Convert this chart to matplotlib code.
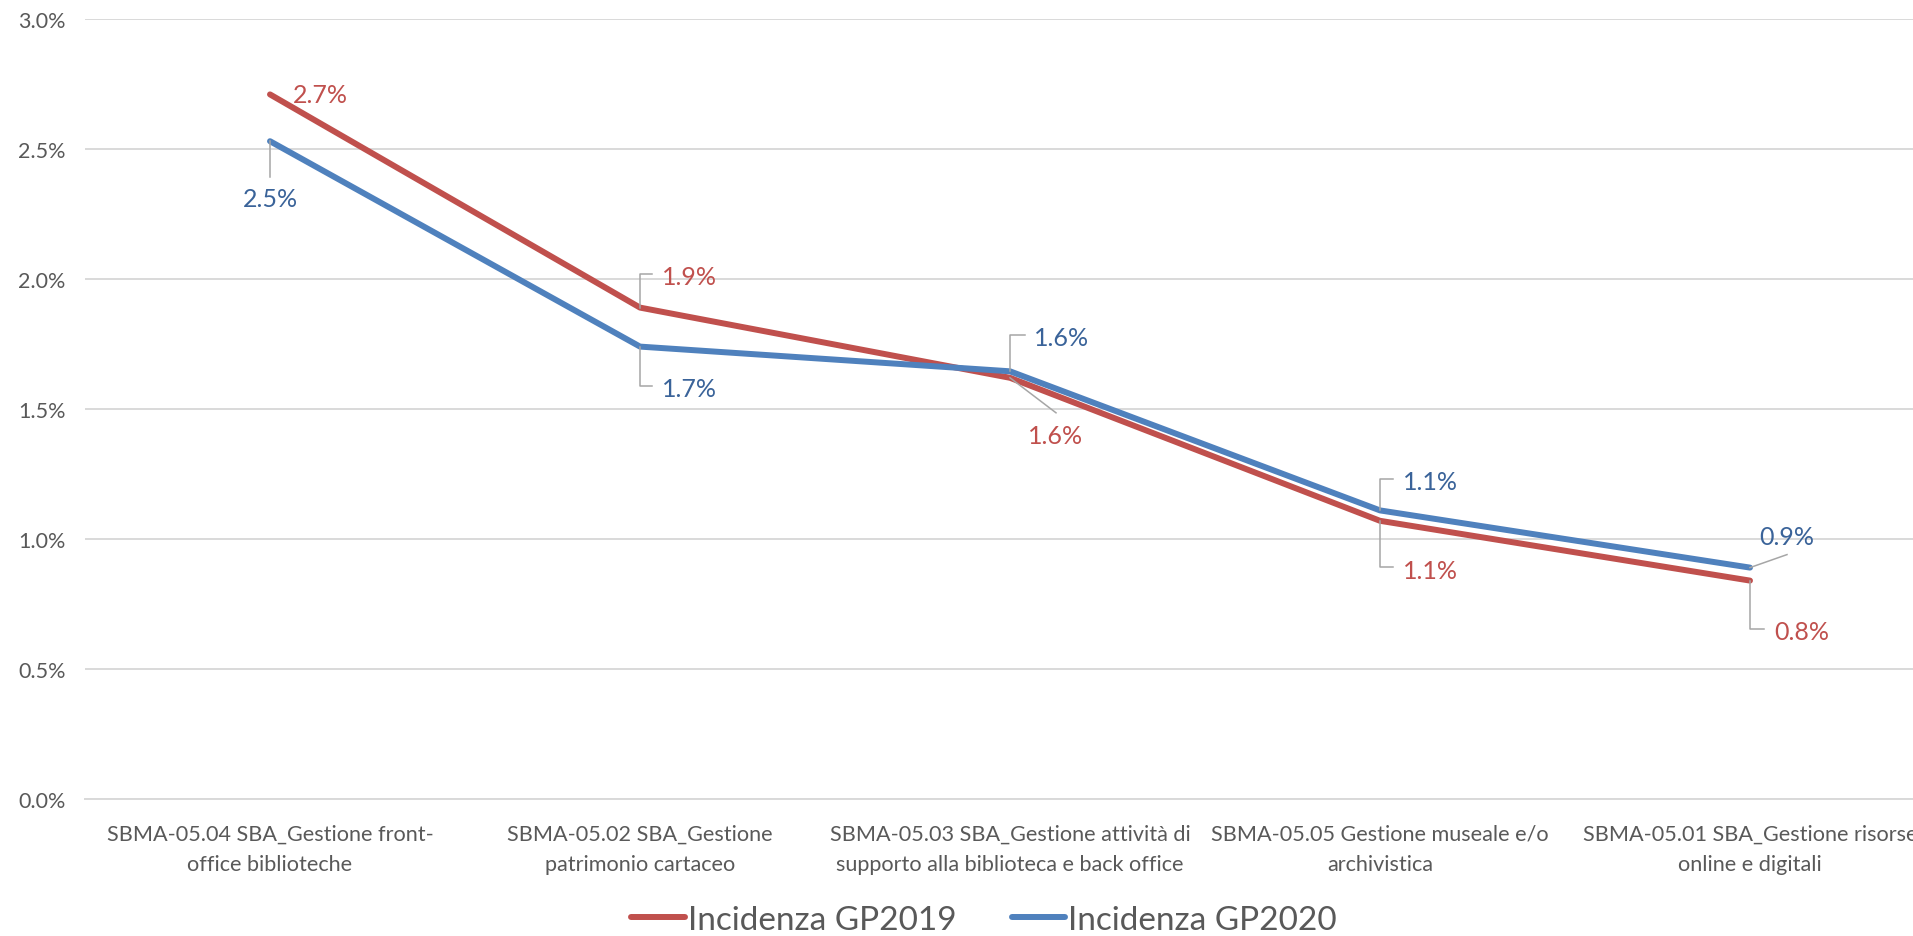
import matplotlib
matplotlib.use("Agg")
import matplotlib.pyplot as plt
from matplotlib.lines import Line2D
from matplotlib.transforms import IdentityTransform

# ===== dati =====
categorie = [
    "SBMA-05.04 SBA_Gestione front-\noffice biblioteche",
    "SBMA-05.02 SBA_Gestione\npatrimonio cartaceo",
    "SBMA-05.03 SBA_Gestione attività di\nsupporto alla biblioteca e back office",
    "SBMA-05.05 Gestione museale e/o\narchivistica",
    "SBMA-05.01 SBA_Gestione risorse\nonline e digitali",
]
incidenza_2019 = [2.71, 1.89, 1.62, 1.07, 0.84]   # %
incidenza_2020 = [2.53, 1.74, 1.645, 1.11, 0.89]  # %
y_ticks = [0.0, 0.5, 1.0, 1.5, 2.0, 2.5, 3.0]

# ===== stile =====
ROSSO = "#C0504D"
BLU = "#4F81BD"
ROSSO_TXT = "#C0504D"
BLU_TXT = "#3A6399"
GRIGIO_TXT = "#595959"
GRIGIO_GRID = "#D9D9D9"
LEADER = "#A6A6A6"

plt.rcParams["font.family"] = ["Lato", "DejaVu Sans"]

# posizione etichette dati (pixel rispetto al punto, y verso il basso)
# (dx testo, dy testo, allineamento, linea guida)
etich_2019 = [
    (23, 0, "left", None),
    (22, -32, "left", [(0, 0), (0, -34), (12, -34)]),
    (46, 57, "center", [(0, 0), (46, 35)]),
    (23, 49, "left", [(0, 0), (0, 46), (13, 46)]),
    (24, 50, "left", [(0, 0), (0, 48), (14, 48)]),
]
etich_2020 = [
    (0, 57, "center", [(0, 0), (0, 36)]),
    (22, 41, "left", [(0, 0), (0, 39), (12, 39)]),
    (24, -34, "left", [(0, 0), (0, -36), (15, -36)]),
    (23, -29, "left", [(0, 0), (0, -31), (13, -31)]),
    (37, -32, "center", [(0, 0), (37, -13)]),
]

W, H = 1913, 937
fig = plt.figure(figsize=(W / 100, H / 100), dpi=100)
# l'area del grafico va oltre il bordo destro, come nell'originale
ax = fig.add_axes([85 / W, (H - 800) / H, 1850 / W, 780 / H])

x = list(range(len(categorie)))
l1, = ax.plot(x, incidenza_2019, color=ROSSO, linewidth=4.3,
              solid_capstyle="round", solid_joinstyle="round", zorder=3)
l2, = ax.plot(x, incidenza_2020, color=BLU, linewidth=4.3,
              solid_capstyle="round", solid_joinstyle="round", zorder=4)

ax.set_xlim(-0.5, len(categorie) - 0.5)
ax.set_ylim(0, 3.0)
ax.set_yticks(y_ticks)
ax.set_yticklabels([f"{v:.1f}%" for v in y_ticks])
ax.set_xticks(x)
ax.set_xticklabels(categorie, linespacing=1.62)

ax.yaxis.grid(True, color=GRIGIO_GRID, linewidth=1.4)
ax.set_axisbelow(True)
for s in ["top", "right", "left"]:
    ax.spines[s].set_visible(False)
ax.spines["bottom"].set_color(GRIGIO_GRID)
ax.spines["bottom"].set_linewidth(1.4)
ax.tick_params(axis="both", length=0, colors=GRIGIO_TXT)
ax.tick_params(axis="y", labelsize=15.5, pad=14)
ax.tick_params(axis="x", labelsize=15.6, pad=18)

# etichette dati con linee guida
for valori, etich, col in [(incidenza_2019, etich_2019, ROSSO_TXT),
                           (incidenza_2020, etich_2020, BLU_TXT)]:
    for i, v in enumerate(valori):
        dx, dy, ha, guida = etich[i]
        ax.annotate(f"{v:.1f}%", xy=(i, v), xytext=(dx, -dy - 8),
                    textcoords="offset pixels", ha=ha, va="baseline",
                    fontsize=18, color=col, zorder=5)
        if guida:
            px, py = ax.transData.transform((i, v))
            fig.add_artist(Line2D([px + gx for gx, gy in guida],
                                  [py - gy for gx, gy in guida],
                                  color=LEADER, linewidth=1.1,
                                  transform=IdentityTransform(), zorder=2))

leg = fig.legend([l1, l2], ["Incidenza GP2019", "Incidenza GP2020"],
                 loc="lower center", bbox_to_anchor=(984 / W, 1.0 / H),
                 ncol=2, frameon=False, fontsize=24, borderpad=0,
                 borderaxespad=0,
                 handlelength=1.6, handletextpad=0.1, columnspacing=1.65)
for t in leg.get_texts():
    t.set_color(GRIGIO_TXT)

fig.savefig("out.png", dpi=100)
